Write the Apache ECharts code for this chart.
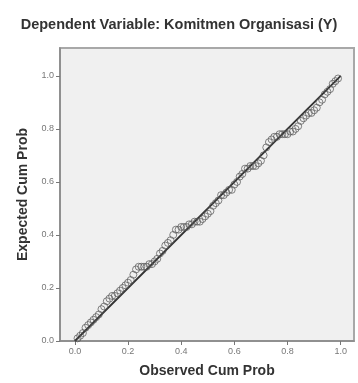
<!DOCTYPE html>
<html>
<head>
<meta charset="utf-8">
<script src="https://cdn.jsdelivr.net/npm/echarts@6/dist/echarts.min.js"></script>
<style>
html,body{margin:0;padding:0;background:#fff;}
#c{width:358px;height:383px;}
</style>
</head>
<body>
<div id="c"></div>
<script>
const titleText = 'Dependent Variable: Komitmen Organisasi (Y)';
const xName = 'Observed Cum Prob';
const yName = 'Expected Cum Prob';
const tickValues = [0, 0.2, 0.4, 0.6, 0.8, 1.0];
const observed = [0.01,0.02,0.03,0.04,0.05,0.06,0.07,0.08,0.09,0.10,0.11,0.12,0.13,0.14,0.15,0.16,0.17,0.18,0.19,0.20,0.21,0.22,0.23,0.24,0.25,0.26,0.27,0.28,0.29,0.30,0.31,0.32,0.33,0.34,0.35,0.36,0.37,0.38,0.39,0.40,0.41,0.42,0.43,0.44,0.45,0.46,0.47,0.48,0.49,0.50,0.51,0.52,0.53,0.54,0.55,0.56,0.57,0.58,0.59,0.60,0.61,0.62,0.63,0.64,0.65,0.66,0.67,0.68,0.69,0.70,0.71,0.72,0.73,0.74,0.75,0.76,0.77,0.78,0.79,0.80,0.81,0.82,0.83,0.84,0.85,0.86,0.87,0.88,0.89,0.90,0.91,0.92,0.93,0.94,0.95,0.96,0.97,0.98,0.99];
const expected = [0.01,0.02,0.03,0.05,0.06,0.07,0.08,0.09,0.10,0.12,0.13,0.15,0.16,0.17,0.17,0.18,0.19,0.20,0.21,0.22,0.23,0.25,0.27,0.28,0.28,0.28,0.28,0.29,0.29,0.30,0.31,0.33,0.34,0.36,0.37,0.38,0.40,0.42,0.42,0.43,0.43,0.43,0.44,0.44,0.45,0.45,0.45,0.46,0.47,0.48,0.49,0.51,0.52,0.53,0.55,0.55,0.56,0.57,0.57,0.59,0.60,0.62,0.63,0.65,0.65,0.66,0.66,0.66,0.67,0.68,0.70,0.73,0.75,0.76,0.77,0.77,0.78,0.78,0.78,0.78,0.79,0.79,0.80,0.81,0.83,0.84,0.85,0.86,0.86,0.87,0.88,0.90,0.91,0.93,0.94,0.95,0.97,0.98,0.99];
const refLine = [[0,0],[1,1]];

const pts = observed.map((v,i)=>[v, expected[i]]);
const chart = echarts.init(document.getElementById('c'), null, {renderer:'canvas'});
const FONT = 'Liberation Sans, Arial, sans-serif';
const labelStyle = {fontSize:9, color:'#777', fontFamily:FONT, formatter: v => Number(v).toFixed(1)};
chart.setOption({
  animation:false,
  backgroundColor:'#ffffff',
  title:{
    text:titleText, left:'center', top:12,
    textStyle:{fontSize:14.5, fontWeight:'bold', color:'#333', fontFamily:FONT}
  },
  grid:{left:60, right:4, top:48, bottom:40, show:true, backgroundColor:'#f0f0f0', borderColor:'#a8a8a8', borderWidth:2},
  xAxis:{
    type:'value', min:-0.056, max:1.05,
    name:xName, nameLocation:'middle', nameGap:23,
    nameTextStyle:{fontSize:14, fontWeight:'bold', color:'#333', fontFamily:FONT},
    axisLine:{show:true, onZero:false, lineStyle:{color:'#888', width:1.5}},
    axisTick:{show:true, length:4, customValues:tickValues, lineStyle:{color:'#777'}},
    axisLabel:Object.assign({customValues:tickValues, margin:6}, labelStyle),
    splitLine:{show:false}
  },
  yAxis:{
    type:'value', min:0, max:1.105,
    name:yName, nameLocation:'middle', nameGap:26, nameRotate:90,
    nameTextStyle:{fontSize:14, fontWeight:'bold', color:'#333', fontFamily:FONT},
    axisLine:{show:true, onZero:false, lineStyle:{color:'#888', width:1.5}},
    axisTick:{show:true, length:4, customValues:tickValues, lineStyle:{color:'#777'}},
    axisLabel:Object.assign({customValues:tickValues, margin:6}, labelStyle),
    splitLine:{show:false}
  },
  series:[
    {type:'line', data:refLine, symbol:'none', lineStyle:{color:'#333', width:1.8}, silent:true, z:2},
    {type:'scatter', data:pts, symbol:'circle', symbolSize:7,
     itemStyle:{color:'rgba(0,0,0,0)', borderColor:'#555', borderWidth:0.9}, z:3}
  ]
});
</script>
</body>
</html>
